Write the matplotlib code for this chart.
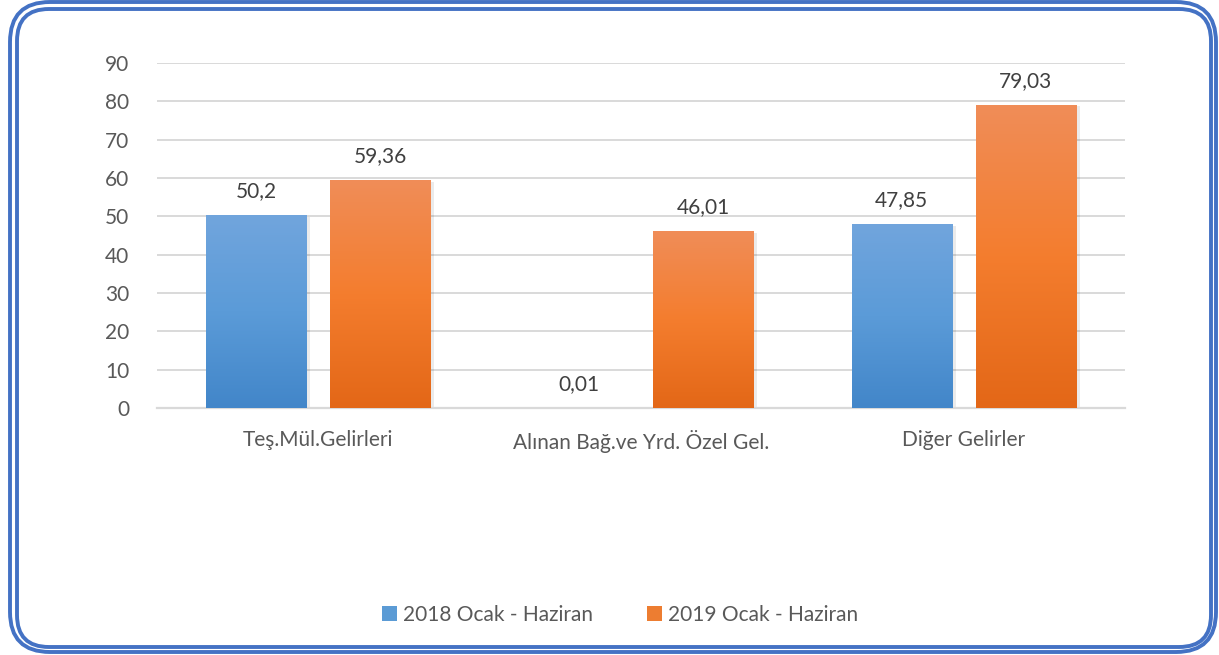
import numpy as np
import matplotlib
matplotlib.use('Agg')
import matplotlib.pyplot as plt
from matplotlib.patches import FancyBboxPatch, Patch
from matplotlib.colors import LinearSegmentedColormap

# Chart data
categories = ['Teş.Mül.Gelirleri', 'Alınan Bağ.ve Yrd. Özel Gel.', 'Diğer Gelirler']
values_2018 = [50.2, 0.01, 47.85]
values_2019 = [59.36, 46.01, 79.03]
labels_2018 = ['50,2', '0,01', '47,85']
labels_2019 = ['59,36', '46,01', '79,03']
series_names = ['2018 Ocak - Haziran', '2019 Ocak - Haziran']
yticks = [0, 10, 20, 30, 40, 50, 60, 70, 80, 90]

plt.rcParams['font.family'] = ['Lato', 'DejaVu Sans']
text_color = '#595959'
fs = 15

W, H = 1219, 655
fig = plt.figure(figsize=(W / 100, H / 100), dpi=100)
ax = fig.add_axes([157 / W, 1 - 408 / H, (1125 - 157) / W, (408 - 63) / H])

# Gradient colour maps (bottom -> top)
blue_cmap = LinearSegmentedColormap.from_list('blue', ['#4286c9', '#5b9bd8', '#71a5dd'])
orange_cmap = LinearSegmentedColormap.from_list('orange', ['#e36717', '#f47d2e', '#f08d58'])

width = 0.31
offset = 0.192
x = np.arange(len(categories))
grad = np.linspace(0, 1, 256).reshape(-1, 1)


def gradient_bars(xpos, vals, cmap, name):
    bars = ax.bar(xpos, vals, width=width, color='none', label=name, zorder=3)
    for b in bars:
        x0, w, h = b.get_x(), b.get_width(), b.get_height()
        if h < 0.5:
            continue
        # soft shadow
        ax.bar(x0 + w / 2 + 0.006, h, width=w + 0.012, bottom=-0.35,
               color='#000000', alpha=0.08, zorder=2, linewidth=0)
        ax.imshow(grad, cmap=cmap, origin='lower', aspect='auto',
                  extent=(x0, x0 + w, 0, h), zorder=3)
    return bars


gradient_bars(x - offset, values_2018, blue_cmap, series_names[0])
gradient_bars(x + offset, values_2019, orange_cmap, series_names[1])

for xi, v, lab in zip(x - offset, values_2018, labels_2018):
    ax.text(xi, v + 3.7, lab, ha='center', va='bottom', fontsize=fs, color='#404040')
for xi, v, lab in zip(x + offset, values_2019, labels_2019):
    ax.text(xi, v + 3.7, lab, ha='center', va='bottom', fontsize=fs, color='#404040')

ax.set_xlim(-0.5, 2.5)
ax.set_ylim(0, 90)
ax.set_yticks(yticks)
ax.set_yticklabels([str(t) for t in yticks], fontsize=fs, color=text_color)
ax.set_xticks(x)
ax.set_xticklabels(categories, fontsize=fs, color=text_color)
ax.tick_params(axis='y', length=0, pad=20)
ax.tick_params(axis='x', length=0, pad=16)
ax.grid(axis='y', color='#d9d9d9', linewidth=1.4, zorder=0)
ax.set_axisbelow(True)
for s in ['top', 'right', 'left']:
    ax.spines[s].set_visible(False)
ax.spines['bottom'].set_color('#d9d9d9')
ax.spines['bottom'].set_linewidth(1.6)

# Legend
handles = [Patch(facecolor='#5b9bd5'), Patch(facecolor='#ed7d31')]
fig.legend(handles, series_names, loc='center', bbox_to_anchor=(620 / W, 1 - 615 / H),
           ncol=2, frameon=False, fontsize=fs, handlelength=0.7, handleheight=0.7,
           handletextpad=0.3, columnspacing=2.6, labelcolor=text_color)

# Double rounded border drawn in pixel coordinates
frame = fig.add_axes([0, 0, 1, 1], zorder=10)
frame.set_xlim(0, W)
frame.set_ylim(H, 0)
frame.axis('off')
frame.patch.set_alpha(0)
for (x0, y0, x1, y1), r in [((10, 2, 1216, 652), 40), ((17, 9, 1211, 647), 32)]:
    frame.add_patch(FancyBboxPatch(
        (x0, y0), x1 - x0, y1 - y0,
        boxstyle='round,pad=0,rounding_size=%d' % r,
        facecolor='none', edgecolor='#4472c4', linewidth=2.8))

fig.savefig('out.png', dpi=100)
